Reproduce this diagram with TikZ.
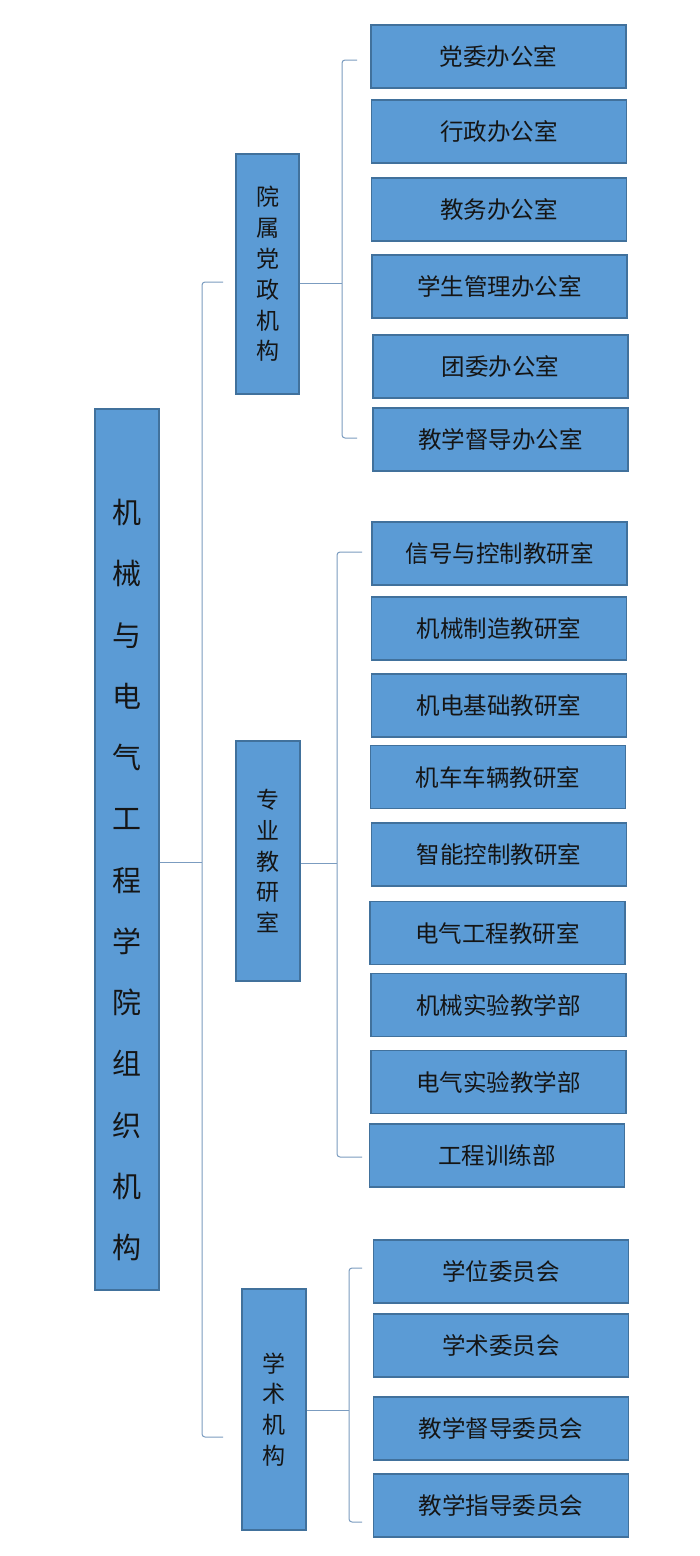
\documentclass[tikz,border=0pt]{standalone}
\usepackage{fontspec}
\setmainfont{Noto Sans CJK SC}
\definecolor{boxfill}{HTML}{5B9BD5}
\definecolor{boxline}{HTML}{41719C}
\definecolor{linec}{HTML}{7B9CC0}
\definecolor{txt}{HTML}{151515}
\begin{document}
\begin{tikzpicture}[x=1pt,y=-1pt,
  box/.style={draw=boxline, line width=1.3pt, fill=boxfill, inner sep=0pt, text=txt},
  item/.style={box, minimum width=255pt, minimum height=63pt, font=\fontsize{23.5}{28}\selectfont},
  grp/.style={box, minimum width=63pt, minimum height=240pt, align=center, font=\fontsize{23}{30.8}\selectfont},
  conn/.style={draw=linec, line width=1pt, rounded corners=3pt}]
\useasboundingbox (0,0) rectangle (700,1556);
\fill[white] (0,0) rectangle (700,1556);

% main box
\node[box, minimum width=64pt, minimum height=881pt] (main) at (127,849.5) {};
\node[text=txt, align=center, font=\fontsize{29}{61.25}\selectfont, inner sep=0pt] (maintxt) at (127,880)
  {机\\械\\与\\电\\气\\工\\程\\学\\院\\组\\织\\机\\构};

% groups
\node[grp] (g1) at (267.5,274) {院\\属\\党\\政\\机\\构};
\node[grp, minimum width=64pt] (g2) at (268,861) {专\\业\\教\\研\\室};
\node[grp, minimum width=64pt, minimum height=241pt] (g3) at (274,1409.5) {学\\术\\机\\构};

% group 1 items
\node[item] (a1) at (498.5,56.5) {党委办公室};
\node[item] (a2) at (499,131.5) {行政办公室};
\node[item] (a3) at (499,209.5) {教务办公室};
\node[item] (a4) at (499.5,286.5) {学生管理办公室};
\node[item] (a5) at (500.5,366.5) {团委办公室};
\node[item] (a6) at (500.5,439.5) {教学督导办公室};

% group 2 items
\node[item] (b1) at (499.5,553.5) {信号与控制教研室};
\node[item] (b2) at (499,628.5) {机械制造教研室};
\node[item] (b3) at (499,705.5) {机电基础教研室};
\node[item] (b4) at (498,777) {机车车辆教研室};
\node[item] (b5) at (499,854.5) {智能控制教研室};
\node[item] (b6) at (497.5,933) {电气工程教研室};
\node[item] (b7) at (498.5,1005) {机械实验教学部};
\node[item] (b8) at (498.5,1082) {电气实验教学部};
\node[item] (b9) at (497,1155.5) {工程训练部};

% group 3 items
\node[item] (c1) at (501,1271.5) {学位委员会};
\node[item] (c2) at (501,1345.5) {学术委员会};
\node[item] (c3) at (501,1428.5) {教学督导委员会};
\node[item] (c4) at (501,1505.5) {教学指导委员会};

% bracket coordinates
\coordinate (m0) at (202,862);
\coordinate (t0) at (223,282);
\coordinate (e0) at (223,1437);
\coordinate (m1) at (342,283);
\coordinate (t1) at (357,60);
\coordinate (e1) at (357,438);
\coordinate (m2) at (337,863);
\coordinate (t2) at (362,552);
\coordinate (e2) at (362,1157);
\coordinate (m3) at (349,1410);
\coordinate (t3) at (362,1268);
\coordinate (e3) at (362,1522);

% connectors
\draw[conn] (main.east |- m0) -- (m0);
\draw[conn] (t0) -| (m0) |- (e0);
\draw[conn] (g1.east |- m1) -- (m1);
\draw[conn] (t1) -| (m1) |- (e1);
\draw[conn] (g2.east |- m2) -- (m2);
\draw[conn] (t2) -| (m2) |- (e2);
\draw[conn] (g3.east |- m3) -- (m3);
\draw[conn] (t3) -| (m3) |- (e3);
\end{tikzpicture}
\end{document}
